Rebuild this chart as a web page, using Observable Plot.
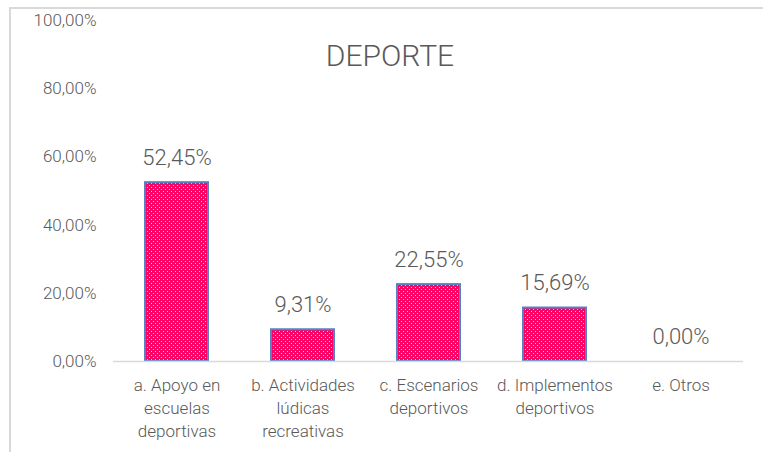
<!DOCTYPE html>
<html><head><meta charset="utf-8">
<script src="https://cdn.jsdelivr.net/npm/d3@7"></script>
<script src="https://cdn.jsdelivr.net/npm/@observablehq/plot@0.6"></script>
<style>
body{margin:0;background:#fff;}
#wrap{position:relative;width:763px;height:452px;overflow:hidden;}
#frame{position:absolute;left:9px;top:7px;width:760px;height:460px;border-top:2px solid #d9d9d9;border-left:2px solid #d9d9d9;}
#title{position:absolute;left:240px;width:300px;top:38px;line-height:30px;text-align:center;font:300 30px Roboto,sans-serif;color:#595959;}
svg{position:absolute;left:0;top:0;}
</style></head><body>
<div id="wrap"><div id="frame"></div><div id="title">DEPORTE</div></div>
<script>
const title = "DEPORTE";
const categories = ["a. Apoyo en escuelas deportivas","b. Actividades lúdicas recreativas","c. Escenarios deportivos","d. Implementos deportivos","e. Otros"];
const tickLabels = ["a. Apoyo en\nescuelas\ndeportivas","b. Actividades\nlúdicas\nrecreativas","c. Escenarios\ndeportivos","d. Implementos\ndeportivos","e. Otros"];
const values = [52.45, 9.31, 22.55, 15.69, 0.00];
const yTicks = [0, 20, 40, 60, 80, 100];

document.getElementById("title").textContent = title;
const data = categories.map((c, i) => ({cat: c, label: tickLabels[i], v: values[i]}));
const fmt = d => d.toFixed(2).replace(".", ",") + "%";
const font = 'Roboto,sans-serif';

const plot = Plot.plot({
  width: 763, height: 452,
  marginLeft: 113, marginRight: 20, marginTop: 20, marginBottom: 91,
  style: {fontFamily: font, color: "#595959", background: "transparent"},
  x: {domain: categories, paddingInner: 0.5, paddingOuter: 0.25, label: null},
  y: {domain: [0, 100], label: null},
  marks: [
    Plot.axisY({ticks: yTicks, tickSize: 0, tickPadding: 17, tickFormat: fmt, fontSize: 17, fontWeight: 300, fill: "#595959", label: null}),
    Plot.axisX({tickSize: 0, tickPadding: 13, tickFormat: d => tickLabels[categories.indexOf(d)], fontSize: 17, fontWeight: 300, lineHeight: 1.36, fill: "#595959", label: null, textAnchor: "middle", lineAnchor: "top"}),
    Plot.barY(data, {x: "cat", y: "v", fill: "url(#dots)", stroke: "#5b80c2", strokeWidth: 2}),
    Plot.ruleY([0], {stroke: "#d9d9d9", strokeWidth: 1.5}),
    Plot.text(data, {x: "cat", y: "v", text: d => fmt(d.v), dy: -25, fontSize: 22, fontWeight: 300, fill: "#595959", fontFamily: "Roboto, sans-serif"})
  ]
});
const defs = d3.select(plot).insert("defs", ":first-child");
const pat = defs.append("pattern").attr("id", "dots").attr("patternUnits", "userSpaceOnUse").attr("width", 4).attr("height", 4);
pat.append("rect").attr("width", 4).attr("height", 4).attr("fill", "#ff0066");
pat.append("rect").attr("x", 1).attr("y", 1).attr("width", 1).attr("height", 1).attr("fill", "#ffb3d1");
pat.append("rect").attr("x", 3).attr("y", 3).attr("width", 1).attr("height", 1).attr("fill", "#ffb3d1");
document.getElementById("wrap").appendChild(plot);
</script>
</body></html>
